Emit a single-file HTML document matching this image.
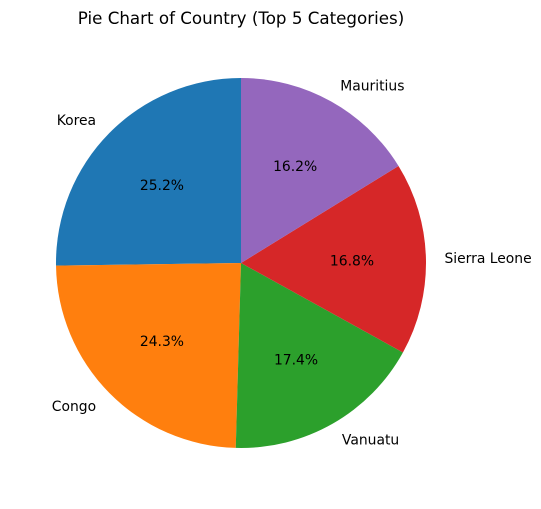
<!DOCTYPE html>
<html><head><meta charset="utf-8"><style>
body{margin:0;background:#fff}
svg{font-family:"DejaVu Sans","Liberation Sans",sans-serif}
</style></head><body>
<svg id="chart" width="541" height="504" viewBox="0 0 541 504">
<text x="241" y="24" text-anchor="middle" font-size="16.7" fill="#000">Pie Chart of Country (Top 5 Categories)</text>
<g id="slices"></g>
</svg>
<script>
const categories = ["Korea","Congo","Vanuatu","Sierra Leone","Mauritius"];
const values = [25.2, 24.3, 17.4, 16.8, 16.2];
const colors = ["#1f77b4","#ff7f0e","#2ca02c","#d62728","#9467bd"];
const cx = 241, cy = 263, r = 185;
const g = document.getElementById('slices');
const ns = "http://www.w3.org/2000/svg";
const total = values.reduce((a,b)=>a+b,0);
let ang = 90;
function pt(a, rr){ const t=a*Math.PI/180; return [cx+rr*Math.cos(t), cy-rr*Math.sin(t)]; }
values.forEach((v,i)=>{
  const sweep = v/total*360;
  const a0 = ang, a1 = ang+sweep;
  const p0 = pt(a0,r), p1 = pt(a1,r);
  const large = sweep>180?1:0;
  const path = document.createElementNS(ns,'path');
  path.setAttribute('d',`M${cx},${cy} L${p0[0]},${p0[1]} A${r},${r} 0 ${large} 0 ${p1[0]},${p1[1]} Z`);
  path.setAttribute('fill',colors[i]);
  
  
  g.appendChild(path);
  const mid = (a0+a1)/2;
  const lp = pt(mid, r*1.1);
  const lab = document.createElementNS(ns,'text');
  lab.setAttribute('x',lp[0]); lab.setAttribute('y',lp[1]+5);
  lab.setAttribute('font-size','13.9');
  lab.setAttribute('text-anchor', Math.cos(mid*Math.PI/180)>=0?'start':'end');
  lab.textContent = categories[i];
  
  
  g.appendChild(lab);
  const pp = pt(mid, r*0.6);
  const pct = document.createElementNS(ns,'text');
  pct.setAttribute('x',pp[0]); pct.setAttribute('y',pp[1]+5);
  pct.setAttribute('font-size','13.9');
  pct.setAttribute('text-anchor','middle');
  pct.textContent = (v/total*100).toFixed(1)+'%';
  
  
  g.appendChild(pct);
  ang = a1;
});
</script>
</body></html>
